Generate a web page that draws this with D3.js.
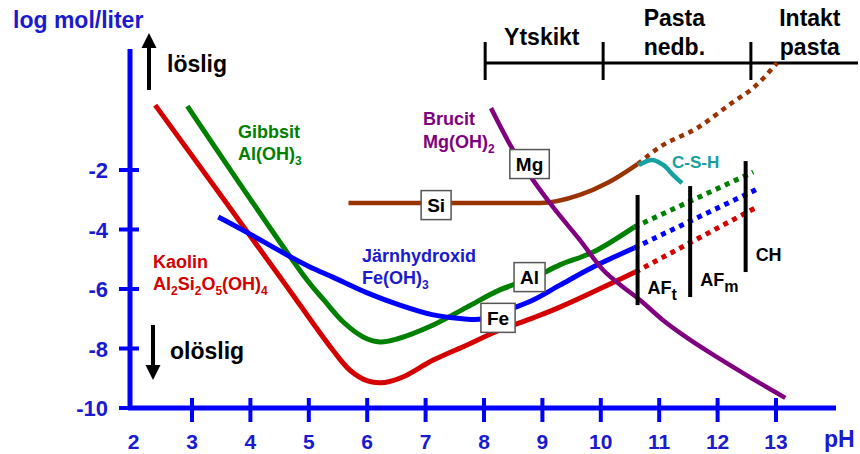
<!DOCTYPE html>
<html><head><meta charset="utf-8">
<script src="https://cdn.jsdelivr.net/npm/d3@7"></script>
<style>
body{margin:0;background:#fff}
svg{display:block}
text{font-family:"Liberation Sans",Arial,Helvetica,sans-serif;font-weight:bold}
</style>
</head><body><svg id="c" width="860" height="454"></svg>
<script>
// ---------- data ----------
const xTicks = [2,3,4,5,6,7,8,9,10,11,12,13];
const yTicks = [-2,-4,-6,-8,-10];

const kaolin = [[2.37,0.18],[4.63,-5.93],[4.85,-6.54],[5.41,-8.05],[5.71,-8.74],[6.02,-9.10],[6.30,-9.14],[6.61,-8.96],[7.13,-8.39],[7.71,-7.88],[8.27,-7.38],[8.84,-6.97],[9.30,-6.61],[10.59,-5.43]];
const kaolinExt = [[10.59,-5.43],[12.64,-3.28]];

const gibbsit = [[2.92,0.15],[4.97,-5.70],[5.25,-6.35],[5.59,-7.11],[5.93,-7.61],[6.22,-7.78],[6.51,-7.68],[7.13,-7.21],[7.71,-6.61],[8.27,-6.03],[8.84,-5.63],[9.30,-5.19],[9.87,-4.76],[10.57,-3.92]];
const gibbsitExt = [[10.57,-3.92],[12.61,-2.07]];

const fe = [[3.45,-3.58],[3.87,-4.02],[4.63,-4.86],[5.02,-5.26],[5.41,-5.60],[6.0,-6.13],[6.56,-6.54],[7.13,-6.87],[7.59,-6.99],[7.97,-7.01],[8.50,-6.64],[8.84,-6.37],[9.30,-5.87],[9.87,-5.26],[10.57,-4.62]];
const feExt = [[10.57,-4.62],[12.68,-2.64]];

const si = [[5.68,-3.11],[8.96,-3.11],[9.64,-2.84],[10.11,-2.44],[10.63,-1.80]];
const siExt = [[10.63,-1.80],[11.01,-1.23],[11.65,-0.59],[12.27,0.29],[12.61,0.76],[13.02,1.60]];

const csh = [[10.65,-1.83],[10.88,-1.66],[11.07,-1.83],[11.24,-2.17],[11.39,-2.44]];

const brucit = [[8.12,0.08],[8.50,-1.33],[8.84,-2.34],[9.18,-3.24],[9.64,-4.35],[10.04,-5.36],[10.38,-5.93],[10.67,-6.37],[11.06,-7.04],[11.53,-7.71],[11.99,-8.29],[12.55,-8.96],[13.16,-9.66]];

// phase boundaries: pH, top log, bottom log
const phasePH = [10.63, 11.53, 12.48];
const phaseTop = [-2.84, -2.54, -1.70];
const phaseBottom = [-6.54, -6.27, -5.43];
const phaseNames = [["AF","t"],["AF","m"],["CH",""]];

// zones along the top
const zoneBounds = [8.02, 10.04, 12.57];
const zoneNames = [["Ytskikt"],["Pasta","nedb."],["Intakt","pasta"]];
const zoneCenters = [8.99, 11.26, 13.58];

// element tags on curves
const tagNames = ["Si","Mg","Al","Fe"];
const tagPH = [7.18, 8.78, 8.78, 8.24];
const tagLog = [-3.18, -1.80, -5.60, -6.97];

// ---------- drawing ----------
const svg = d3.select("#c");
const x = d3.scaleLinear().domain([2,13]).range([133.6, 776]);
const y = d3.scaleLinear().domain([-10,-2]).range([408, 170]);

const lineM = d3.line().x(d=>x(d[0])).y(d=>y(d[1])).curve(d3.curveMonotoneX);
const lineC = d3.line().x(d=>x(d[0])).y(d=>y(d[1])).curve(d3.curveCatmullRom.alpha(0.5));
const RED="#d40000", GREEN="#008000", BLUE="#0000ff", BROWN="#993300", PURPLE="#800080", TEAL="#16a0a0";
const AXIS="#0000ff", LBL="#1a1ad0";

// axes
svg.append("line").attr("x1",130).attr("x2",130).attr("y1",49).attr("y2",410)
  .attr("stroke",AXIS).attr("stroke-width",5);
svg.append("line").attr("x1",128).attr("x2",836).attr("y1",408).attr("y2",408)
  .attr("stroke",AXIS).attr("stroke-width",5);

svg.selectAll(".yt").data(yTicks).join("line")
  .attr("x1",119).attr("x2",139).attr("y1",d=>y(d)).attr("y2",d=>y(d))
  .attr("stroke",AXIS).attr("stroke-width",4);
svg.selectAll(".yl").data(yTicks).join("text")
  .attr("x",108).attr("y",d=>y(d)+8).attr("text-anchor","end")
  .attr("font-size",22).attr("fill",LBL).text(d=>d);

svg.selectAll(".xt").data(xTicks.slice(1)).join("line")
  .attr("x1",d=>x(d)).attr("x2",d=>x(d)).attr("y1",398).attr("y2",422)
  .attr("stroke",AXIS).attr("stroke-width",4);
svg.selectAll(".xl").data(xTicks).join("text")
  .attr("x",d=>x(d)).attr("y",449).attr("text-anchor","middle")
  .attr("font-size",21).attr("fill",LBL).text(d=>d);

svg.append("text").attr("x",13).attr("y",28).attr("font-size",23).attr("fill",LBL).text("log mol/liter");
svg.append("text").attr("x",824).attr("y",447).attr("font-size",23).attr("fill",LBL).text("pH");

// arrows
function arrow(xp, y1, y2, dir){
  svg.append("line").attr("x1",xp).attr("x2",xp).attr("y1",y1).attr("y2",y2)
    .attr("stroke","#000").attr("stroke-width",4);
  const tip = y2 + dir*15;
  svg.append("path").attr("d",`M${xp-7.5},${y2}L${xp+7.5},${y2}L${xp},${tip}Z`).attr("fill","#000");
}
arrow(149, 90, 48, -1);
arrow(153, 325, 365, 1);
svg.append("text").attr("x",167).attr("y",72).attr("font-size",23).attr("fill","#000").text("löslig");
svg.append("text").attr("x",170).attr("y",359).attr("font-size",23).attr("fill","#000").text("olöslig");

// top zone bracket
const bY = 63;
svg.append("line").attr("x1",x(zoneBounds[0])).attr("x2",858).attr("y1",bY).attr("y2",bY)
  .attr("stroke","#000").attr("stroke-width",3);
svg.selectAll(".zb").data(zoneBounds).join("line")
  .attr("x1",d=>x(d)).attr("x2",d=>x(d)).attr("y1",42).attr("y2",80)
  .attr("stroke","#000").attr("stroke-width",3);
zoneNames.forEach((lines,i)=>{
  const t = svg.append("text").attr("text-anchor","middle").attr("font-size",23).attr("fill","#000");
  const base = lines.length===1 ? 45 : 26;
  lines.forEach((s,j)=>t.append("tspan").attr("x",x(zoneCenters[i])).attr("y",base+j*29).text(s));
});

// curves
function curve(data, color, w, dotted, gen){
  const p = svg.append("path").attr("d",(gen||lineM)(data)).attr("fill","none")
    .attr("stroke",color).attr("stroke-width",w).attr("stroke-linejoin","round");
  if(dotted) p.attr("stroke-dasharray","5,5");
}
curve(kaolin, RED, 5, false, lineC);
curve(kaolinExt, RED, 5, true);
curve(gibbsit, GREEN, 5, false, lineC);
curve(gibbsitExt, GREEN, 5, true);
curve(fe, BLUE, 5, false, lineC);
curve(feExt, BLUE, 5, true);
curve(si, BROWN, 4.5);
curve(siExt, BROWN, 4.5, true);
curve(csh, TEAL, 4.5, false, lineC);
curve(brucit, PURPLE, 4.5);

// phase boundaries
svg.selectAll(".ph").data(phasePH).join("line")
  .attr("x1",d=>x(d)).attr("x2",d=>x(d))
  .attr("y1",(d,i)=>y(phaseTop[i])).attr("y2",(d,i)=>y(phaseBottom[i]))
  .attr("stroke","#000").attr("stroke-width",4);
phaseNames.forEach((n,i)=>{
  const t = svg.append("text").attr("x",x(phasePH[i])+10).attr("y",y(phaseBottom[i])-11)
    .attr("font-size",18).attr("fill","#000");
  t.append("tspan").text(n[0]);
  if(n[1]) t.append("tspan").attr("dy",6).attr("font-size",16).text(n[1]);
});

// chemical labels with subscripts: parts = [[text, sub], ...]
function chem(xp, yp, color, parts){
  const t = svg.append("text").attr("font-size",18).attr("fill",color).attr("x",xp).attr("y",yp);
  let prevSub = false;
  parts.forEach(p=>{
    const m = t.append("tspan").text(p[0]);
    if(prevSub) m.attr("dy",-5);
    prevSub = false;
    if(p[1]){ t.append("tspan").attr("dy",5).attr("font-size",12).text(p[1]); prevSub = true; }
  });
}
chem(238,138,GREEN,[["Gibbsit",""]]);
chem(238,160,GREEN,[["Al(OH)","3"]]);
chem(153,268,RED,[["Kaolin",""]]);
chem(153,290,RED,[["Al","2"],["Si","2"],["O","5"],["(OH)","4"]]);
chem(423,125,PURPLE,[["Brucit",""]]);
chem(423,148,PURPLE,[["Mg(OH)","2"]]);
chem(362,262,LBL,[["Järnhydroxid",""]]);
chem(362,284,LBL,[["Fe(OH)","3"]]);
svg.append("text").attr("x",672).attr("y",168).attr("font-size",17).attr("fill",TEAL).text("C-S-H");

// tags
tagNames.forEach((n,i)=>{
  const g = svg.append("g").attr("transform",`translate(${x(tagPH[i])},${y(tagLog[i])})`);
  const r = g.append("rect").attr("fill","#fff").attr("stroke","#555").attr("stroke-width",1.5);
  const t = g.append("text").attr("text-anchor","middle").attr("y",7).attr("font-size",19).attr("fill","#000").text(n);
  const w = t.node().getComputedTextLength()+12;
  r.attr("x",-w/2).attr("y",-14.5).attr("width",w).attr("height",29);
});
</script>
</body></html>
